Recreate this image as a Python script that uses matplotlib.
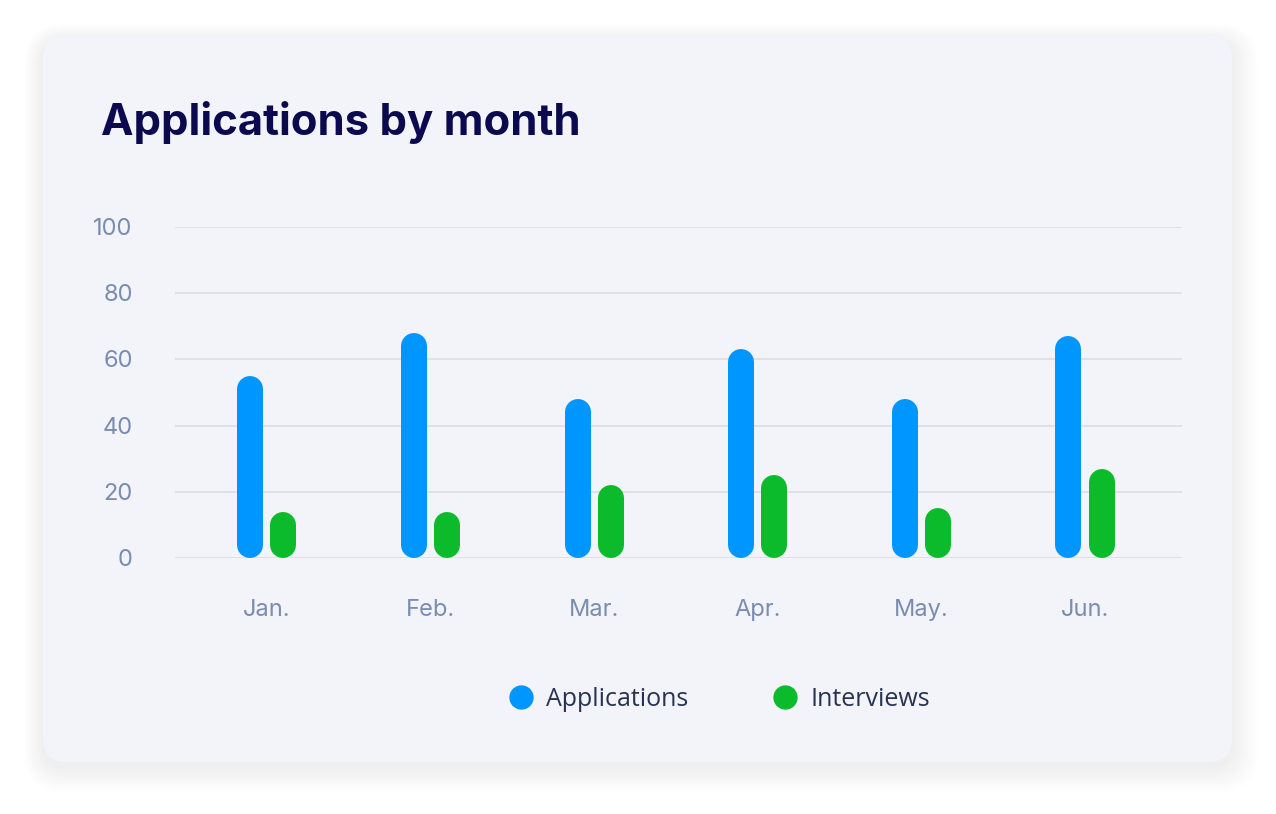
import matplotlib
matplotlib.use("Agg")
import matplotlib.pyplot as plt
from matplotlib.patches import FancyBboxPatch
from matplotlib.lines import Line2D

# ──────────────────────────────────────────────
#  Data
# ──────────────────────────────────────────────

months = ["Jan.", "Feb.", "Mar.", "Apr.", "May.", "Jun."]
applications = [55, 68, 48, 63, 48, 67]
interviews = [14, 14, 22, 25, 15, 27]
y_ticks = [0, 20, 40, 60, 80, 100]

BLUE = "#0096ff"
GREEN = "#0bbb2b"
TITLE_C = "#0c0a4f"
TICK_C = "#7a8db0"
GRID_C = "#dfe1e8"
CARD_C = "#f3f4f9"

W, H, DPI = 1276, 814, 100

fig = plt.figure(figsize=(W / DPI, H / DPI), dpi=DPI)
fig.patch.set_facecolor("white")

# ── card background (pixel coords) ─────────────
bg = fig.add_axes([0, 0, 1, 1])
bg.set_xlim(0, W)
bg.set_ylim(H, 0)
bg.axis("off")
for i in range(16, 0, -1):
    bg.add_patch(FancyBboxPatch((43 - i * 1.2, 40 - i * 1.0), 1189 + i * 2.8, 727 + i * 2.6,
                                boxstyle="round,pad=0,rounding_size=%d" % (24 + i),
                                fc="#c4c8d6", ec="none", alpha=0.0035, zorder=0))
bg.add_patch(FancyBboxPatch((43, 35), 1189, 727, boxstyle="round,pad=0,rounding_size=24",
                            fc=CARD_C, ec="none", zorder=1))

fig.text(101 / W, 1 - 123 / H, "Applications by month", fontsize=31.4, fontweight="bold",
         family="Inter", color=TITLE_C, va="center", ha="left")

# ── chart axes ─────────────────────────────────
x0, x1, y0, y1 = 175, 1182, 558, 227
ax = fig.add_axes([x0 / W, 1 - y0 / H, (x1 - x0) / W, (y0 - y1) / H])
ax.set_facecolor("none")
ax.set_xlim(-0.562, 5.593)
ax.set_ylim(0, 100)
for s in ax.spines.values():
    s.set_visible(False)
ax.tick_params(length=0)
ax.set_yticks(y_ticks)
ax.set_yticklabels([])
ax.set_xticks(range(len(months)))
ax.set_xticklabels([])
ax.grid(axis="y", color=GRID_C, lw=1.5, zorder=0)
ax.grid(axis="x", visible=False)

for t in y_ticks:
    ax.text(-0.82, t - 0.6, str(t), ha="right", va="center", fontsize=17, family="Inter",
            color=TICK_C, clip_on=False)
for i, m in enumerate(months):
    ax.text(i, -15.6, m, ha="center", va="center", fontsize=17, family="Inter",
            color=TICK_C, clip_on=False)

px_per_unit = (y0 - y1) / 100
bar_px = 26
r = bar_px / 2 / px_per_unit
lw = bar_px * 72 / DPI

for i in range(len(months)):
    for v, off, c in ((applications[i], -0.101, BLUE), (interviews[i], 0.101, GREEN)):
        ax.plot([i + off, i + off], [r, v - r], color=c, lw=lw, solid_capstyle="round",
                zorder=3, clip_on=False)

handles = [Line2D([], [], ls="none", marker="o", ms=16.5, mfc=BLUE, mec=BLUE, label="Applications"),
           Line2D([], [], ls="none", marker="o", ms=16.5, mfc=GREEN, mec=GREEN, label="Interviews")]
leg = fig.legend(handles=handles, loc="center", bbox_to_anchor=(719 / W, 1 - 699 / H), ncol=2,
                 frameon=False, handlelength=1.0, handletextpad=0.5, columnspacing=3.4,
                 prop={"family": "Open Sans", "size": 18})
for t in leg.get_texts():
    t.set_color("#283350")

fig.savefig("out.png", dpi=DPI)
